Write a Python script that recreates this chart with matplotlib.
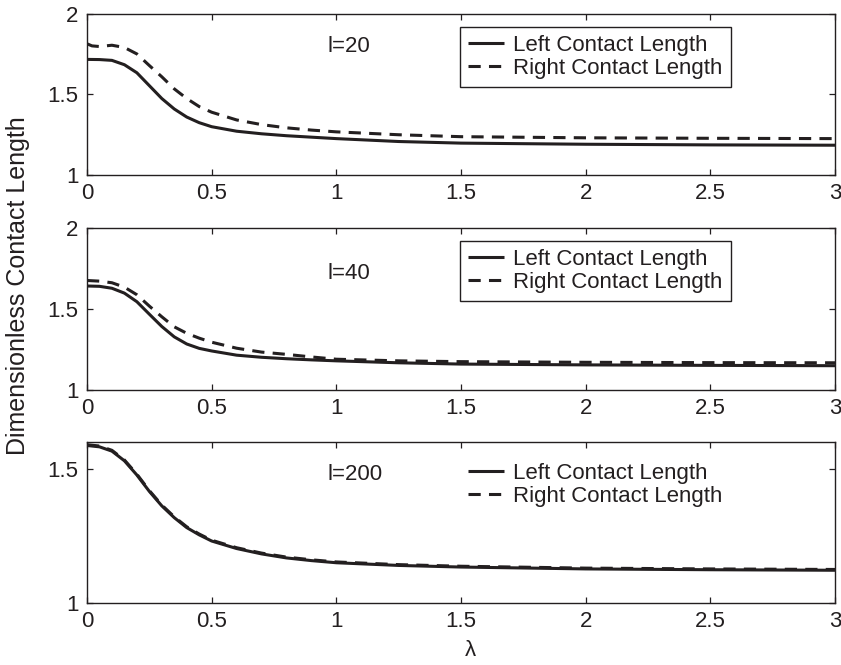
import matplotlib
matplotlib.use("Agg")
import matplotlib.pyplot as plt

# ---- data ----
lam = [0, 0.05, 0.1, 0.15, 0.2, 0.25, 0.3, 0.35, 0.4, 0.45, 0.5,
       0.6, 0.7, 0.8, 0.9, 1.0, 1.25, 1.5, 2.0, 2.5, 3.0]

lam_r20 = [0, 0.02, 0.05, 0.1, 0.15, 0.2, 0.25, 0.3, 0.35, 0.4, 0.45, 0.5,
           0.6, 0.7, 0.8, 0.9, 1.0, 1.25, 1.5, 2.0, 2.5, 3.0]

left_20 = [1.718, 1.717, 1.712, 1.685, 1.635, 1.555, 1.475, 1.41, 1.36, 1.325, 1.30,
           1.272, 1.256, 1.244, 1.235, 1.226, 1.208, 1.198, 1.191, 1.187, 1.185]
right_20 = [1.815, 1.802, 1.798, 1.806, 1.792, 1.752, 1.68, 1.61, 1.535, 1.475, 1.425, 1.39,
            1.342, 1.313, 1.293, 1.279, 1.268, 1.25, 1.238, 1.231, 1.228, 1.226]

left_40 = [1.642, 1.640, 1.628, 1.598, 1.545, 1.468, 1.392, 1.328, 1.284, 1.257, 1.241,
           1.215, 1.202, 1.193, 1.186, 1.180, 1.168, 1.160, 1.155, 1.152, 1.150]
right_40 = [1.676, 1.672, 1.662, 1.635, 1.588, 1.518, 1.452, 1.39, 1.35, 1.32, 1.295,
            1.258, 1.234, 1.22, 1.204, 1.19, 1.18, 1.175, 1.171, 1.169, 1.168]

left_200 = [1.587, 1.582, 1.566, 1.53, 1.477, 1.416, 1.362, 1.318, 1.281, 1.254, 1.231,
            1.203, 1.183, 1.168, 1.158, 1.150, 1.140, 1.134, 1.127, 1.124, 1.122]
right_200 = [1.590, 1.585, 1.569, 1.533, 1.480, 1.419, 1.365, 1.321, 1.284, 1.257, 1.234,
             1.206, 1.186, 1.171, 1.161, 1.153, 1.143, 1.137, 1.130, 1.127, 1.125]

panel_labels = ["l=20", "l=40", "l=200"]
series_labels = ["Left Contact Length", "Right Contact Length"]
xticks = [0, 0.5, 1, 1.5, 2, 2.5, 3]
xticklabels = ["0", "0.5", "1", "1.5", "2", "2.5", "3"]
yticks_list = [[1, 1.5, 2], [1, 1.5, 2], [1, 1.5]]
yticklabels_list = [["1", "1.5", "2"], ["1", "1.5", "2"], ["1", "1.5"]]
ylims = [(1, 2), (1, 2), (1, 1.6)]

# ---- style ----
plt.rcParams['font.family'] = ['Liberation Sans', 'DejaVu Sans']
FS = 16
INK = '#231f20'

fig = plt.figure(figsize=(8.41, 6.65), dpi=100)
W, H = 841, 665
rects = [(14, 175), (228, 390), (442, 603)]
left_px, right_px = 87, 835

data = [(lam, left_20, lam_r20, right_20),
        (lam, left_40, lam, right_40),
        (lam, left_200, lam, right_200)]

for i, (top, bot) in enumerate(rects):
    ax = fig.add_axes([left_px / W, 1 - bot / H, (right_px - left_px) / W, (bot - top) / H])
    xl, yl, xr, yr = data[i]
    ax.plot(xl, yl, color=INK, lw=2.2, solid_capstyle='butt', solid_joinstyle='round',
            label=series_labels[0])
    ax.plot(xr, yr, color=INK, lw=2.2, dashes=(4.0, 2.7), label=series_labels[1])
    ax.set_xlim(0, 3)
    ax.set_ylim(*ylims[i])
    ax.set_xticks(xticks)
    ax.set_xticklabels(xticklabels)
    ax.set_yticks(yticks_list[i])
    ax.set_yticklabels(yticklabels_list[i])
    ax.tick_params(direction='in', top=True, right=True, length=4, width=0.9,
                   labelsize=FS, colors=INK, pad=6)
    for s in ax.spines.values():
        s.set_linewidth(1.0)
        s.set_color(INK)
    ax.text(0.321, 0.80 if i != 1 else 0.722, panel_labels[i], transform=ax.transAxes,
            ha='left', va='center', fontsize=FS, color=INK)
    leg = ax.legend(loc='upper left', bbox_to_anchor=(0.4987, 0.92), fontsize=FS,
                    frameon=(i < 2), fancybox=False, edgecolor=INK, framealpha=1,
                    handlelength=1.65, handletextpad=0.4, borderpad=0.35,
                    labelspacing=0.1, borderaxespad=0)
    leg.get_frame().set_linewidth(1.0)
    for t in leg.get_texts():
        t.set_color(INK)

fig.text(18 / W, 1 - 286 / H, "Dimensionless Contact Length", rotation=90,
         ha='center', va='center', fontsize=18, color=INK)
fig.text(470 / W, 1 - 651 / H, "λ", ha='center', va='center', fontsize=FS, color=INK)

fig.savefig("out.png", dpi=100)
